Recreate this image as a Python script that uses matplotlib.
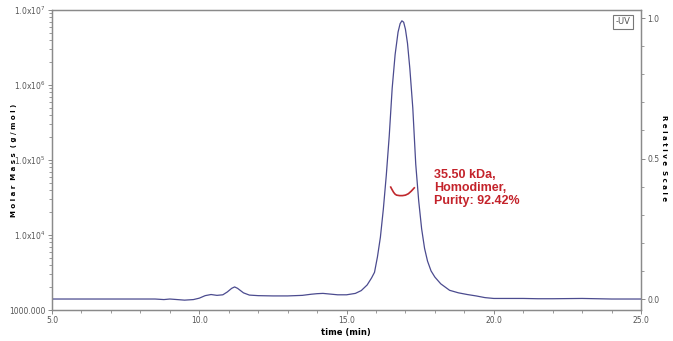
import matplotlib
matplotlib.use('Agg')
import matplotlib.pyplot as plt
from matplotlib.ticker import FixedLocator, MultipleLocator, LogLocator, NullFormatter

plt.rcParams['font.family'] = ['Liberation Sans Narrow', 'DejaVu Sans']

# UV trace (relative scale)
uv_time = [5.0, 8.5, 8.8, 9.0, 9.5, 9.8, 10.0, 10.2, 10.4, 10.6, 10.8, 10.95,
           11.1, 11.2, 11.3, 11.5, 11.7, 12.0, 12.5, 13.0, 13.5, 13.8, 14.0,
           14.2, 14.4, 14.7, 15.0, 15.3, 15.5, 15.7, 15.85, 15.95, 16.05, 16.15,
           16.25, 16.35, 16.45, 16.55, 16.65, 16.75, 16.82, 16.88, 16.94, 17.0,
           17.07, 17.15, 17.25, 17.35, 17.45, 17.55, 17.65, 17.75, 17.87, 18.0,
           18.2, 18.5, 18.8, 19.1, 19.4, 19.7, 20.0, 21.0, 21.5, 22.0, 23.0,
           23.5, 24.0, 25.0]
uv_signal = [0.0, 0.0, -0.002, 0.0, -0.004, -0.002, 0.003, 0.012, 0.016, 0.013,
             0.015, 0.025, 0.038, 0.043, 0.038, 0.022, 0.014, 0.012, 0.011,
             0.011, 0.013, 0.017, 0.019, 0.020, 0.018, 0.015, 0.015, 0.020,
             0.030, 0.050, 0.075, 0.095, 0.15, 0.22, 0.32, 0.44, 0.58, 0.75,
             0.87, 0.95, 0.98, 0.99, 0.985, 0.96, 0.91, 0.82, 0.68, 0.48, 0.35,
             0.25, 0.18, 0.135, 0.10, 0.078, 0.054, 0.031, 0.022, 0.016, 0.011,
             0.005, 0.002, 0.002, 0.001, 0.001, 0.002, 0.001, 0.0, 0.0]

# molar mass across the main peak
mw_time = [16.50, 16.55, 16.60, 16.65, 16.70, 16.80, 16.90, 17.00, 17.10, 17.20, 17.30]
mw_value = [43500, 40000, 37000, 35000, 34000, 33500, 33500, 34000, 35500, 38500, 42500]

x_ticks = [5.0, 10.0, 15.0, 20.0, 25.0]
y_ticks = [1e3, 1e4, 1e5, 1e6, 1e7]
y_labels = ['1000.000', r'1.0x10$^{4}$', r'1.0x10$^{5}$', r'1.0x10$^{6}$', r'1.0x10$^{7}$']
r_ticks = [0.0, 0.5, 1.0]

frame = '#8a8a8a'
tick_col = '#555555'

fig = plt.figure(figsize=(6.73, 3.41), dpi=100)
ax = fig.add_axes([0.0773, 0.0909, 0.8752, 0.8798])
ax2 = ax.twinx()

ax.set_yscale('log')
ax.set_ylim(1e3, 1e7)
ax.set_xlim(5, 25)
ax.yaxis.set_major_locator(FixedLocator(y_ticks))
ax.set_yticklabels(y_labels)
ax.yaxis.set_minor_locator(LogLocator(base=10, subs=range(2, 10)))
ax.yaxis.set_minor_formatter(NullFormatter())
ax.set_xticks(x_ticks)
ax.set_xticklabels(['%.1f' % v for v in x_ticks])
ax.xaxis.set_minor_locator(MultipleLocator(1.0))

ax2.set_ylim(-0.0391, 1.0285)
ax2.set_yticks(r_ticks)
ax2.set_yticklabels(['%.1f' % v for v in r_ticks])
ax2.yaxis.set_minor_locator(MultipleLocator(0.1))

for a in (ax, ax2):
    for s in a.spines.values():
        s.set_color(frame)
        s.set_linewidth(0.9)
    a.tick_params(which='both', direction='out', colors=frame, labelcolor=tick_col,
                  labelsize=5.5, pad=1.5)
    a.tick_params(which='major', length=3, width=0.7)
    a.tick_params(which='minor', length=2, width=0.6)

ax2.plot(uv_time, uv_signal, color='#4b4b8f', lw=0.9)
ax.plot(mw_time, mw_value, color='#c0282d', lw=1.2)

fig.text(14 / 673, 1 - 160 / 341, 'M o l a r  M a s s  ( g / m o l )', fontsize=5,
         fontweight='bold', rotation=90, ha='center', va='center')
fig.text(664 / 673, 1 - 158 / 341, 'R e l a t i v e  S c a l e', fontsize=5,
         fontweight='bold', rotation=-90, ha='center', va='center')
fig.text(346 / 673, 1 - 333 / 341, 'time (min)', fontsize=6, fontweight='bold',
         ha='center', va='center')

ax.text(17.97, 4.2e4, '35.50 kDa,\nHomodimer,\nPurity: 92.42%', color='#c4232b',
        fontsize=9, fontweight='bold', family=['Liberation Sans', 'DejaVu Sans'],
        va='center', ha='left', linespacing=1.1)

ax2.text(0.982, 0.975, '-UV', transform=ax.transAxes, ha='right', va='top',
         fontsize=6, color='#555555',
         bbox=dict(boxstyle='square,pad=0.25', fc='white', ec='#777777', lw=0.8))

fig.savefig('out.png', dpi=100)
